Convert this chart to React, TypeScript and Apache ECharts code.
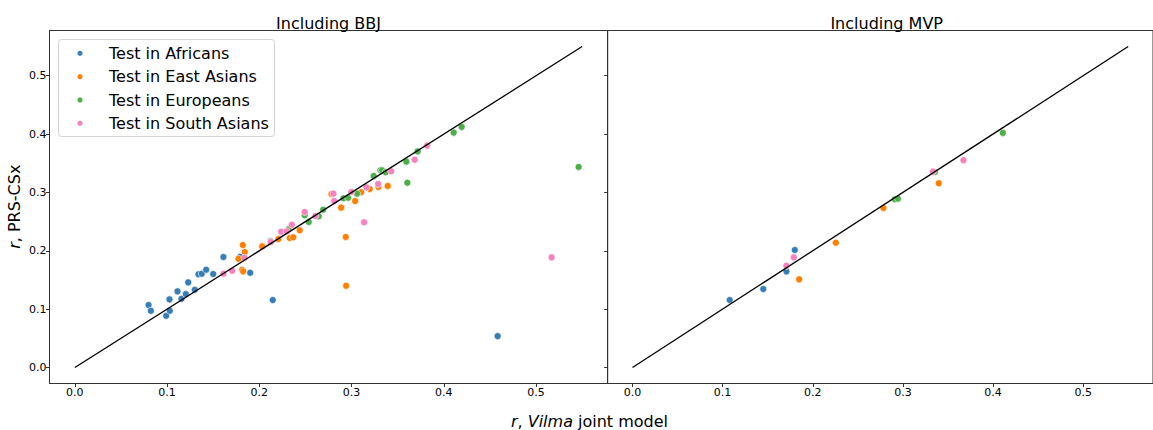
import React, { useEffect, useRef } from "react";
import * as echarts from "echarts";

// Including BBJ panel: [r Vilma joint model, r PRS-CSx]
const bbjAfricans: [number, number][] = [
  [0.0799, 0.1069], [0.0824, 0.0971], [0.099, 0.0885], [0.1029, 0.0971], [0.1026, 0.1167],
  [0.1113, 0.1304], [0.1156, 0.1177], [0.1203, 0.1258], [0.1229, 0.1458], [0.13, 0.1332],
  [0.134, 0.1596], [0.1376, 0.1606], [0.1424, 0.1675], [0.15, 0.1601], [0.1611, 0.1893],
  [0.1792, 0.1898], [0.1901, 0.1623], [0.2146, 0.1155], [0.4584, 0.0537],
];
const bbjEastAsians: [number, number][] = [
  [0.1821, 0.2098], [0.1842, 0.1978], [0.1774, 0.1863], [0.1814, 0.1675], [0.1825, 0.1647],
  [0.2031, 0.2076], [0.2207, 0.2201], [0.233, 0.2219], [0.2367, 0.2231], [0.2438, 0.2351],
  [0.2887, 0.2739], [0.2937, 0.2236], [0.2941, 0.14], [0.2782, 0.2974], [0.3039, 0.2853],
  [0.3104, 0.3003], [0.3197, 0.3059], [0.3291, 0.3094], [0.3392, 0.3111],
];
const bbjEuropeans: [number, number][] = [
  [0.2121, 0.2166], [0.2319, 0.2373], [0.2492, 0.2608], [0.2536, 0.2493], [0.2644, 0.2591],
  [0.2692, 0.2704], [0.2912, 0.29], [0.2963, 0.291], [0.306, 0.2979], [0.324, 0.3282],
  [0.3313, 0.338], [0.3331, 0.338], [0.337, 0.3346], [0.3594, 0.3528], [0.3605, 0.3167],
  [0.3717, 0.3703], [0.4107, 0.4025], [0.4194, 0.4123], [0.5462, 0.3437],
];
const bbjSouthAsians: [number, number][] = [
  [0.1611, 0.1606], [0.1706, 0.1658], [0.1839, 0.1881], [0.2124, 0.215], [0.2237, 0.2327],
  [0.2297, 0.2334], [0.2352, 0.2447], [0.2492, 0.2665], [0.2608, 0.2596], [0.2803, 0.2979],
  [0.2811, 0.2853], [0.2998, 0.3008], [0.3161, 0.3089], [0.3136, 0.2488], [0.3288, 0.3145],
  [0.343, 0.3363], [0.3684, 0.3559], [0.3819, 0.3802], [0.5169, 0.1887],
];

// Including MVP panel
const mvpAfricans: [number, number][] = [
  [0.1079, 0.1155], [0.1451, 0.1344], [0.1708, 0.1647], [0.1801, 0.2013],
];
const mvpEastAsians: [number, number][] = [
  [0.1849, 0.151], [0.2256, 0.2138], [0.2784, 0.2733], [0.3398, 0.3157],
];
const mvpEuropeans: [number, number][] = [
  [0.2911, 0.2883], [0.2946, 0.2893], [0.3355, 0.3351], [0.4109, 0.402],
];
const mvpSouthAsians: [number, number][] = [
  [0.1708, 0.1743], [0.179, 0.1887], [0.3333, 0.3356], [0.3672, 0.3552],
];

const identityLine: [number, number][] = [[0, 0], [0.55, 0.55]];
const tickValues = [0, 0.1, 0.2, 0.3, 0.4, 0.5];
const groupNames = ["Test in Africans", "Test in East Asians", "Test in Europeans", "Test in South Asians"];
const groupColors = ["#377eb8", "#ff7f00", "#4daf4a", "#f781bf"];
const panelTitles = ["Including BBJ", "Including MVP"];

const FONT = "DejaVu Sans";

export default function App() {
  const ref = useRef<HTMLDivElement>(null);
  useEffect(() => {
    document.body.style.margin = "0";
    if (!ref.current) return;
    const chart = echarts.init(ref.current, null, { renderer: "svg" });
    const lo = -0.0275;
    const hi = 0.5775;
    const gridL = [49.5, 607.7];
    const W = 558;

    const mkAxis = (i: number, isX: boolean) => ({
      type: "value",
      gridIndex: i,
      min: lo,
      max: hi,
      splitLine: { show: false },
      axisLine: { show: true, onZero: false, lineStyle: { color: "#333", width: 1 } },
      axisTick: { show: true, length: 3.5, customValues: tickValues, lineStyle: { color: "#333" } },
      axisLabel: {
        show: isX || i === 0,
        customValues: tickValues,
        margin: 3,
        fontSize: 11,
        fontFamily: FONT,
        color: "#000",
        formatter: (v: number) => v.toFixed(1),
      },
    });

    const panels = [
      [bbjAfricans, bbjEastAsians, bbjEuropeans, bbjSouthAsians],
      [mvpAfricans, mvpEastAsians, mvpEuropeans, mvpSouthAsians],
    ];
    const series: any[] = [];
    panels.forEach((groups, p) => {
      groups.forEach((d, g) => {
        series.push({
          type: "scatter",
          name: groupNames[g],
          xAxisIndex: p,
          yAxisIndex: p,
          data: d,
          symbolSize: 7,
          itemStyle: { color: groupColors[g], opacity: 1, borderColor: "#fff", borderWidth: 0.6 },
          z: 2,
        });
      });
      series.push({
        type: "line",
        xAxisIndex: p,
        yAxisIndex: p,
        data: identityLine,
        symbol: "none",
        silent: true,
        lineStyle: { color: "#000", width: 1.3 },
        z: 3,
      });
    });

    const titleText = (t: string, i: number) => ({
      type: "text",
      x: gridL[i] + W / 2,
      y: 23,
      style: {
        text: t,
        fontSize: 16,
        fontFamily: FONT,
        fill: "#000",
        align: "center",
        verticalAlign: "middle",
      },
    });

    const legendEls: any[] = [
      {
        type: "rect",
        shape: { x: 58.5, y: 39.5, width: 216, height: 97, r: 3 },
        style: { fill: "#fff", stroke: "#d3d3d3", lineWidth: 1 },
        z: 10,
      },
    ];
    groupNames.forEach((name, i) => {
      const cy = 53.3 + i * 23.35;
      legendEls.push({
        type: "circle",
        shape: { cx: 80, cy, r: 2.6 },
        style: { fill: groupColors[i] },
        z: 11,
      });
      legendEls.push({
        type: "text",
        x: 109,
        y: cy,
        style: {
          text: name,
          fontSize: 16,
          fontFamily: FONT,
          fill: "#000",
          align: "left",
          verticalAlign: "middle",
        },
        z: 11,
      });
    });

    const richStyle = {
      i: { fontStyle: "italic", fontSize: 16, fontFamily: FONT, fill: "#000" },
      n: { fontSize: 16, fontFamily: FONT, fill: "#000" },
    };

    chart.setOption({
      animation: false,
      backgroundColor: "#fff",
      grid: [
        { left: gridL[0], top: 30.5, width: W, height: 353, show: true, borderColor: "#333", borderWidth: 1, backgroundColor: "transparent" },
        { left: gridL[1], top: 30.5, width: W, height: 353, show: true, borderColor: "#333", borderWidth: 1, backgroundColor: "transparent" },
      ],
      xAxis: [mkAxis(0, true), mkAxis(1, true)],
      yAxis: [mkAxis(0, false), mkAxis(1, false)],
      graphic: [
        titleText(panelTitles[0], 0),
        titleText(panelTitles[1], 1),
        ...legendEls,
        {
          type: "text",
          x: 589.5,
          y: 421.2,
          style: {
            text: "{i|r}{n|, }{i|Vilma}{n| joint model}",
            align: "center",
            verticalAlign: "middle",
            fontSize: 16,
            fontFamily: FONT,
            fill: "#000",
            rich: richStyle,
          },
        },
        {
          type: "text",
          x: 14.2,
          y: 206.7,
          rotation: Math.PI / 2,
          style: {
            text: "{i|r}{n|, PRS-CSx}",
            align: "center",
            verticalAlign: "middle",
            fontSize: 16,
            fontFamily: FONT,
            fill: "#000",
            rich: richStyle,
          },
        },
      ],
      series,
    });
    return () => chart.dispose();
  }, []);
  return (
    <div
      ref={ref}
      style={{ position: "absolute", left: 0, top: 0, width: 1153, height: 430 }}
    />
  );
}
